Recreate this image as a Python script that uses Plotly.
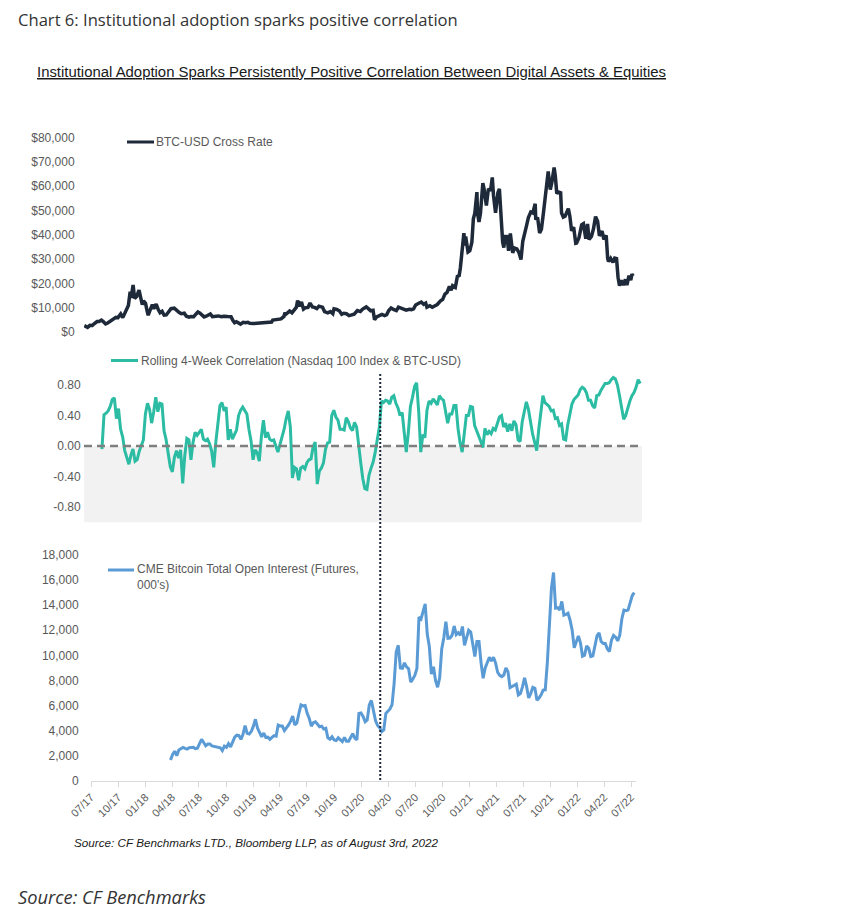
import pandas as pd
import plotly.graph_objects as go

W, H = 842, 918

# ---------------- data ----------------
btc_dates = (
    ["2017-07-05","2017-07-16","2017-07-24","2017-08-01","2017-08-08","2017-08-17","2017-08-24","2017-09-01","2017-09-08","2017-09-15","2017-09-22","2017-10-01","2017-10-12","2017-10-20","2017-10-27","2017-11-05","2017-11-12","2017-11-19","2017-11-26","2017-12-01","2017-12-07","2017-12-10","2017-12-17","2017-12-22","2017-12-29"]
    + ["2018-01-06","2018-01-12","2018-01-17","2018-01-21","2018-01-28","2018-02-02","2018-02-06","2018-02-12","2018-02-20","2018-02-25","2018-03-05","2018-03-12","2018-03-18","2018-03-25","2018-04-01","2018-04-08","2018-04-15","2018-04-24","2018-05-05","2018-05-14","2018-05-22","2018-05-29","2018-06-08","2018-06-15","2018-06-24","2018-07-01","2018-07-10","2018-07-17","2018-07-24","2018-07-31","2018-08-07","2018-08-14","2018-08-21","2018-08-31","2018-09-04","2018-09-11","2018-09-20","2018-10-01","2018-10-11","2018-10-20","2018-11-01","2018-11-13","2018-11-19","2018-11-25","2018-12-01","2018-12-08","2018-12-15","2018-12-24"]
    + ["2019-01-01","2019-01-09","2019-01-15","2019-01-28","2019-02-08","2019-02-20","2019-03-01","2019-03-15","2019-03-30","2019-04-03","2019-04-15","2019-04-23","2019-05-01","2019-05-11","2019-05-14","2019-05-17","2019-05-30","2019-06-07","2019-06-16","2019-06-22","2019-06-26","2019-07-02","2019-07-09","2019-07-16","2019-07-23","2019-07-31","2019-08-07","2019-08-15","2019-08-22","2019-08-30","2019-09-06","2019-09-18","2019-09-25","2019-10-06","2019-10-15","2019-10-23","2019-10-27","2019-11-05","2019-11-14","2019-11-22","2019-11-29","2019-12-08","2019-12-17","2019-12-26"]
    + ["2020-01-03","2020-01-14","2020-01-24","2020-02-01","2020-02-13","2020-02-20","2020-02-28","2020-03-07","2020-03-12","2020-03-19","2020-03-26","2020-04-06","2020-04-15","2020-04-22","2020-04-29","2020-05-07","2020-05-15","2020-05-25","2020-06-01","2020-06-10","2020-06-20","2020-06-27","2020-07-07","2020-07-15","2020-07-22","2020-07-29","2020-08-10","2020-08-17","2020-08-25","2020-09-01","2020-09-05","2020-09-15","2020-09-23","2020-10-01","2020-10-10","2020-10-21","2020-10-28","2020-11-05","2020-11-12","2020-11-20","2020-11-26","2020-12-01","2020-12-10","2020-12-17","2020-12-23","2020-12-27"]
    + ["2021-01-02","2021-01-08","2021-01-11","2021-01-14","2021-01-22","2021-01-28","2021-02-04","2021-02-09","2021-02-14","2021-02-21","2021-02-23","2021-02-28","2021-03-05","2021-03-13","2021-03-17","2021-03-25","2021-04-01","2021-04-08","2021-04-14","2021-04-18","2021-04-25","2021-05-03","2021-05-08","2021-05-12","2021-05-19","2021-05-23","2021-05-27","2021-06-03","2021-06-08","2021-06-14","2021-06-22","2021-06-28","2021-07-06","2021-07-13","2021-07-20","2021-07-26","2021-08-01","2021-08-08","2021-08-14","2021-08-22","2021-08-29","2021-09-06","2021-09-08","2021-09-14","2021-09-21","2021-09-27","2021-10-04","2021-10-10","2021-10-15","2021-10-20","2021-10-27","2021-11-01","2021-11-09","2021-11-13","2021-11-18","2021-11-24","2021-12-01","2021-12-04","2021-12-10","2021-12-16","2021-12-27"]
    + ["2022-01-01","2022-01-07","2022-01-14","2022-01-21","2022-01-24","2022-02-01","2022-02-10","2022-02-16","2022-02-24","2022-03-02","2022-03-07","2022-03-15","2022-03-22","2022-03-29","2022-04-05","2022-04-11","2022-04-20","2022-04-26","2022-05-04","2022-05-09","2022-05-12","2022-05-19","2022-05-27","2022-06-02","2022-06-08","2022-06-13","2022-06-18","2022-06-24","2022-07-01","2022-07-08","2022-07-13","2022-07-20","2022-07-26","2022-07-30","2022-08-03"]
)
btc_usd = (
    [2600,1930,2750,2720,3400,4300,4300,4900,4200,3300,3700,4400,5400,6000,5900,7400,5900,8000,9300,10900,16500,14000,19300,13800,14600]
    + [17200,13900,11200,12800,11800,8800,6900,8900,11200,9600,11500,9200,7900,8500,6900,7000,8300,9600,9800,8700,8000,7500,7700,6500,6100,6400,6300,7300,8200,7700,6900,6200,6500,7000,7400,6300,6500,6600,6250,6500,6350,6300,4800,3800,4200,3500,3250,4000]
    + [3800,4000,3600,3450,3600,3950,3800,3950,4100,4900,5100,5500,5400,6400,8000,7300,8600,7900,9000,10200,12900,10600,12300,9400,10000,10100,11900,10300,10100,9600,10600,10200,8400,7900,8400,7500,9500,9300,8700,7300,7700,7500,6700,7200]
    + [7300,8800,8400,9400,10300,9600,8700,8900,5000,6200,6700,7200,6700,7100,8800,9900,9300,8800,10200,9800,9300,9000,9300,9200,9500,11100,11900,12300,11400,11900,10200,10800,10200,10600,11300,12800,13300,15600,16300,18700,17200,19000,18300,22800,23200,26300]
    + [32200,40600,35500,39200,32900,33400,36900,46500,48800,57500,48900,45200,48800,61200,58900,52000,58900,58000,63500,56200,49000,57200,58800,49100,37000,34700,39300,39200,33400,40500,32500,34500,34100,32700,29800,37300,39800,43800,47000,49300,48900,52700,46100,47100,40700,42200,49100,54700,61700,66000,58500,61300,67600,64100,56900,57500,57200,49000,47200,47600,50700]
    + [47700,41600,43100,36500,36600,38700,44000,44500,38300,44400,38000,39300,42400,47400,45500,39500,41500,38100,39700,30100,29000,30300,28600,30400,30200,22500,19000,21200,19300,21600,19300,23200,21300,23800,23000]
)

# Rolling 4-week correlation, weekly readings starting 2017-08-07
corr_start = "2017-08-07"
corr_values = [
    -0.04,0.41,0.43,0.46,0.52,0.61,0.63,0.36,0.49,0.22,
    0.12,-0.06,-0.15,-0.24,-0.12,-0.04,-0.20,-0.18,-0.07,0.02,
    0.08,0.42,0.56,0.48,0.30,0.45,0.64,0.45,0.56,0.55,
    0.20,0.08,-0.07,-0.27,-0.34,-0.15,-0.06,-0.16,-0.05,-0.49,
    -0.13,0.10,0.08,-0.18,0.05,0.18,0.14,0.19,0.22,0.09,
    0.07,0.09,0.03,-0.07,-0.28,0.05,0.33,0.53,0.57,0.46,
    0.51,0.08,0.22,0.09,0.15,0.21,0.40,0.47,0.51,0.47,
    0.42,0.22,0.07,-0.18,-0.05,-0.09,-0.20,0.12,0.34,0.11,
    0.18,0.09,0.07,0.08,0.00,-0.08,0.02,0.12,0.22,0.36,
    0.46,0.25,-0.42,-0.28,-0.30,-0.45,-0.29,-0.27,-0.30,-0.22,
    -0.18,-0.17,-0.01,0.05,-0.50,-0.33,-0.29,-0.22,-0.04,0.04,
    0.05,0.40,0.47,0.38,0.34,0.22,0.22,0.21,0.37,0.32,
    0.24,0.20,0.31,0.25,-0.02,-0.22,-0.43,-0.56,-0.57,-0.38,
    -0.29,-0.21,-0.08,0.07,0.25,0.59,0.57,0.60,0.59,0.55,
    0.64,0.66,0.56,0.50,0.40,0.44,0.22,-0.08,0.18,0.52,
    0.64,0.78,0.83,0.45,-0.08,0.15,0.11,0.47,0.59,0.56,
    0.62,0.58,0.54,0.66,0.62,0.60,0.46,0.30,0.42,0.42,
    0.53,0.53,0.23,0.04,-0.08,0.18,0.40,0.40,0.52,0.51,
    0.27,0.20,0.14,0.06,-0.02,0.23,0.15,0.19,0.16,0.23,
    0.21,0.30,0.38,0.40,0.25,0.30,0.19,0.29,0.20,0.33,
    0.28,0.08,0.06,0.32,0.47,0.58,0.48,0.30,0.16,0.05,
    -0.06,0.22,0.46,0.66,0.57,0.55,0.52,0.46,0.47,0.36,
    0.37,0.27,0.29,0.09,0.08,0.28,0.44,0.55,0.61,0.64,
    0.67,0.74,0.77,0.75,0.70,0.60,0.60,0.53,0.50,0.66,
    0.67,0.73,0.78,0.82,0.82,0.83,0.87,0.90,0.88,0.80,
    0.66,0.50,0.35,0.40,0.51,0.59,0.66,0.70,0.77,0.87,0.82,
]

# CME Bitcoin total open interest (000's), weekly readings starting 2018-03-27
oi_start = "2018-03-27"
oi_values = [
    1650,2100,2350,2000,2450,2580,2660,2580,2520,2630,
    2660,2660,2560,2600,2950,3300,3050,2780,2920,2920,
    2780,2740,2710,2690,2630,2400,2760,2660,2950,2700,
    3050,3480,3630,3600,3300,3700,4400,3780,3730,3920,
    4350,4900,4200,3880,3500,3800,3450,3470,3300,3450,
    3600,3550,4440,4370,4360,4000,4200,4450,4750,5150,
    4440,4600,5370,6040,5960,6000,5370,4970,4350,4620,
    4700,4450,4300,4350,4120,4180,3420,3300,3500,3250,
    3200,3420,3300,3120,3450,3150,3150,3450,3750,3400,
    3250,5370,5410,5130,4700,4850,6040,6400,5550,4800,
    4400,4230,3910,4040,5370,5560,5720,6070,7770,10270,
    10800,8990,8960,9400,9080,8920,7870,8100,8400,8950,
    13050,12900,13500,14100,11700,10700,8500,9100,8000,7450,
    8200,10500,11400,12680,11360,11380,11600,12340,11650,11800,
    11600,12300,10800,11500,12000,11850,10900,9900,11100,11100,
    9400,8170,9000,9500,9850,9550,9850,9400,8650,8400,
    8300,8430,9000,8700,7420,7510,7600,7700,6840,6950,
    7480,8200,7500,6600,6950,7450,7370,6420,6590,6850,
    7230,7250,9400,12100,15350,16600,13760,13800,13620,14300,
    13200,13260,13350,12800,12000,10600,11060,11550,11000,9920,
    10000,10750,10560,9900,9950,10700,11550,11800,11100,10950,
    10950,10500,10300,11200,11580,11450,11150,11600,12900,13600,
    13550,13600,14200,14750,15000,
]

covid_date = "2020-03-05"

btc_ticks = [0, 10000, 20000, 30000, 40000, 50000, 60000, 70000, 80000]
btc_ticktext = ["$0", "$10,000", "$20,000", "$30,000", "$40,000", "$50,000", "$60,000", "$70,000", "$80,000"]
corr_ticks = [-0.8, -0.4, 0.0, 0.4, 0.8]
corr_ticktext = ["-0.80", "-0.40", "0.00", "0.40", "0.80"]
oi_ticks = [0, 2000, 4000, 6000, 8000, 10000, 12000, 14000, 16000, 18000]
oi_ticktext = ["0", "2,000", "4,000", "6,000", "8,000", "10,000", "12,000", "14,000", "16,000", "18,000"]

assert len(btc_dates) == len(btc_usd)
corr_dates = pd.date_range(corr_start, periods=len(corr_values), freq="7D")
oi_dates = pd.date_range(oi_start, periods=len(oi_values), freq="7D")

# ---------------- styling ----------------
NAVY = "#1e2939"
TEAL = "#2bbca3"
BLUE = "#5b9bd5"
GREY_TXT = "#595959"
ARIAL = "Liberation Sans, Arial, sans-serif"
TITLE_FONT = "Open Sans, Lato, sans-serif"


def fx(p):
    return p / W


def fy(p):
    return 1 - p / H


fig = go.Figure()
fig.add_trace(go.Scatter(x=btc_dates, y=btc_usd, mode="lines", xaxis="x", yaxis="y",
                         line=dict(color=NAVY, width=3.5), name="BTC-USD Cross Rate"))
fig.add_trace(go.Scatter(x=corr_dates, y=corr_values, mode="lines", xaxis="x2", yaxis="y2",
                         line=dict(color=TEAL, width=3),
                         name="Rolling 4-Week Correlation (Nasdaq 100 Index & BTC-USD)"))
fig.add_trace(go.Scatter(x=oi_dates, y=oi_values, mode="lines", xaxis="x3", yaxis="y3",
                         line=dict(color=BLUE, width=3),
                         name="CME Bitcoin Total Open Interest (Futures, 000's)"))

tickfont = dict(family=ARIAL, size=12, color=GREY_TXT)
yax_common = dict(showgrid=False, zeroline=False, showline=False, ticks="outside",
                  tickcolor="rgba(0,0,0,0)", tickfont=tickfont, tickmode="array",
                  fixedrange=True)

fig.update_layout(
    width=W, height=H, margin=dict(l=0, r=0, t=0, b=0),
    paper_bgcolor="white", plot_bgcolor="rgba(0,0,0,0)",
    showlegend=False, template="none",
    xaxis=dict(domain=[fx(84), fx(642)], range=["2017-07-04", "2022-09-02"],
               visible=False, anchor="y"),
    yaxis=dict(domain=[fy(332), fy(137.3)], range=[0, 80000], anchor="x",
               tickvals=btc_ticks, ticktext=btc_ticktext, ticklen=6, **yax_common),
    xaxis2=dict(domain=[fx(84), fx(642)], range=["2017-06-07 08:00", "2022-08-07"],
                visible=False, anchor="y2"),
    yaxis2=dict(domain=[fy(524), fy(368)], range=[-1.0236, 1.0236], anchor="x2",
                tickvals=corr_ticks, ticktext=corr_ticktext, ticklen=0, **yax_common),
    xaxis3=dict(domain=[fx(91), fx(636)], range=["2017-07-01", "2022-07-17 21:00"],
                anchor="y3", tick0="2017-07-01", dtick="M3", tickformat="%m/%y",
                tickangle=-45, showgrid=False, zeroline=False, showline=True,
                linecolor="#d9d9d9", linewidth=1, ticks="outside", ticklen=5,
                tickcolor="#d9d9d9", tickfont=dict(family=ARIAL, size=11, color=GREY_TXT)),
    yaxis3=dict(domain=[fy(780.7), fy(555)], range=[0, 18000], anchor="x3",
                tickvals=oi_ticks, ticktext=oi_ticktext, ticklen=9, **yax_common),
)

shapes = [
    # shaded negative zone of the correlation panel
    dict(type="rect", xref="paper", yref="y2", x0=fx(84), x1=fx(642), y0=-1.0, y1=0,
         fillcolor="#f2f2f2", line=dict(width=0), layer="below"),
    # zero line
    dict(type="line", xref="paper", yref="y2", x0=fx(84), x1=fx(642), y0=0, y1=0,
         line=dict(color="#7f7f7f", width=2.5, dash="8px,5px"), layer="above"),
    # March 2020 marker
    dict(type="line", xref="x3", yref="paper", x0=covid_date, x1=covid_date,
         y0=fy(780), y1=fy(374), line=dict(color=NAVY, width=2, dash="2px,2px")),
    # legend keys
    dict(type="line", xref="paper", yref="paper", x0=fx(127), x1=fx(154), y0=fy(142), y1=fy(142),
         line=dict(color=NAVY, width=3)),
    dict(type="line", xref="paper", yref="paper", x0=fx(111), x1=fx(138), y0=fy(360.5), y1=fy(360.5),
         line=dict(color=TEAL, width=3)),
    dict(type="line", xref="paper", yref="paper", x0=fx(108), x1=fx(134), y0=fy(570), y1=fy(570),
         line=dict(color=BLUE, width=3)),
]
fig.update_layout(shapes=shapes)

ann = []


def text(x, y, s, size, color="#404040", family=ARIAL, xanchor="left"):
    ann.append(dict(x=fx(x), y=fy(y), xref="paper", yref="paper", text=s, showarrow=False,
                    xanchor=xanchor, yanchor="middle", align="left",
                    font=dict(family=family, size=size, color=color)))


text(16, 19, "Chart 6: Institutional adoption sparks positive correlation", 16.6,
     color="#333333", family=TITLE_FONT)
text(351.5, 72, "<u>Institutional Adoption Sparks Persistently Positive Correlation Between Digital Assets &amp; Equities</u>",
     14.9, color="#1a1a1a", xanchor="center")
text(154, 142, "BTC-USD Cross Rate", 12, color=GREY_TXT)
text(139, 360.5, "Rolling 4-Week Correlation (Nasdaq 100 Index &amp; BTC-USD)", 12, color=GREY_TXT)
text(135, 577, "CME Bitcoin Total Open Interest (Futures,<br>000's)", 12, color=GREY_TXT)
text(72, 842, "<i>Source: CF Benchmarks LTD., Bloomberg LLP, as of August 3rd, 2022</i>", 11.7,
     color="#1a1a1a")
text(16, 896, "<i>Source: CF Benchmarks</i>", 18.3, color="#333333", family=TITLE_FONT)
fig.update_layout(annotations=ann)

fig.write_html("out.html", include_plotlyjs=True, full_html=True,
               config={"displayModeBar": False},
               post_script="document.body.style.margin='0px';")
